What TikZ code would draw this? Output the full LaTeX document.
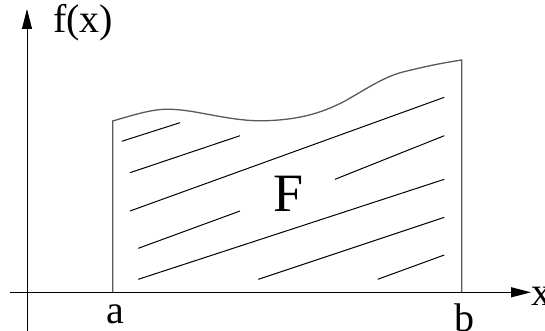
\documentclass[tikz,border=0pt]{standalone}
\usepackage{fontspec}
\setmainfont{Liberation Serif}
\usetikzlibrary{arrows.meta}
\tikzset{
  axis/.style={line width=1pt, -{Triangle[length=20pt,width=10pt]}},
  outline/.style={draw=black!65, line width=1.3pt},
  hatch/.style={line width=1pt},
  lbl/.style={inner sep=0pt, font=\fontsize{40}{42}\selectfont},
}
\begin{document}
\begin{tikzpicture}[x=1pt,y=-1pt]
\useasboundingbox (0,0) rectangle (545,331);
% axes
\coordinate (xs) at (10,292.3);
\coordinate (xe) at (531,292.3);
\coordinate (ys) at (27,331);
\coordinate (ye) at (27,9);
\draw[axis] (xs) -- (xe);
\draw[axis] (ys) -- (ye);
% region outline
\coordinate (A0) at (112.7,292.3);
\coordinate (A1) at (112.7,121);
\coordinate (B1) at (461.7,60);
\coordinate (B0) at (461.7,292.3);
\draw[outline] (A0) -- (A1)
  .. controls (140,113) and (155,108.5) .. (172,109.3)
  .. controls (200,110.5) and (232,122) .. (266.7,120.7)
  .. controls (300,119.5) and (322,113) .. (345,101)
  .. controls (368,88) and (385,76) .. (405,71.5)
  .. controls (425,66.5) and (442,63) .. (B1) -- (B0);
% hatching
\draw[hatch] (121.7,141.3) -- (180,122.7);
\draw[hatch] (130,172.7) -- (240,135.7);
\draw[hatch] (130,211) -- (444.3,97.3);
\draw[hatch] (335,179.3) -- (444.3,135.7);
\draw[hatch] (138.3,248.3) -- (240,211);
\draw[hatch] (138.3,279.3) -- (444.3,179.3);
\draw[hatch] (258.3,279.3) -- (444.3,217.3);
\draw[hatch] (377.7,279.3) -- (444.3,255);
% labels
\node[lbl, anchor=base west] (fx) at (53,32.5) {f(x)};
\node[lbl, anchor=base] (la) at (115.3,323.3) {a};
\node[lbl, anchor=base] (lb) at (464,331.5) {b};
\node[lbl, anchor=base west] (lx) at (531.5,305) {x};
\node[inner sep=0pt, anchor=base, font=\fontsize{54}{56}\selectfont] (F) at (289,211.7) {F};
\end{tikzpicture}
\end{document}
